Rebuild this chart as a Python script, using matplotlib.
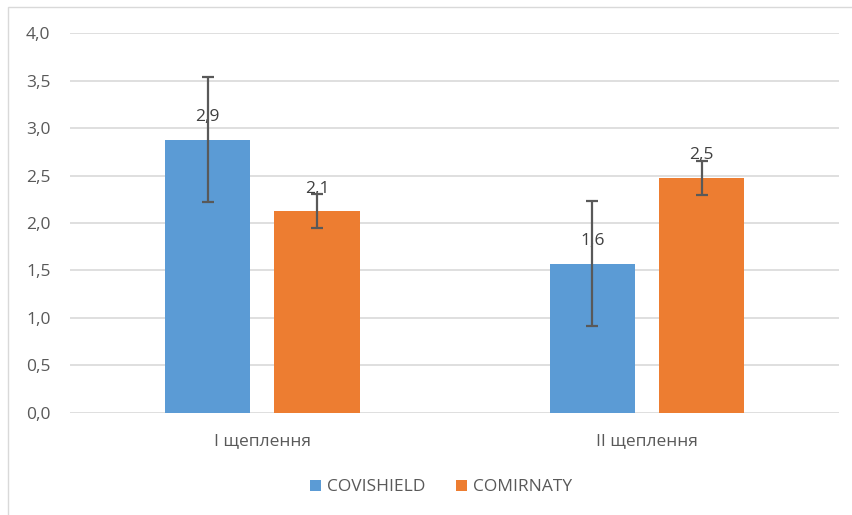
import matplotlib.pyplot as plt
import numpy as np
from matplotlib.patches import Rectangle

categories = ['I щеплення', 'II щеплення']
series_names = ['COVISHIELD', 'COMIRNATY']
covishield = [2.88, 1.57]
comirnaty = [2.125, 2.475]
covishield_err = [0.66, 0.66]
comirnaty_err = [0.18, 0.175]
y_ticks = [0.0, 0.5, 1.0, 1.5, 2.0, 2.5, 3.0, 3.5, 4.0]

plt.rcParams['font.family'] = ['Open Sans', 'DejaVu Sans']

fig = plt.figure(figsize=(8.53, 5.15), dpi=100)
ax = fig.add_axes([0.082, 0.199, 0.902, 0.736])

# рамка області діаграми
fig.patches.append(Rectangle((8 / 853, -0.1), 1.2, 1 - 7 / 515 + 0.1,
                             transform=fig.transFigure, fill=False,
                             edgecolor='#d9d9d9', linewidth=1.0))

x = np.arange(len(categories))
w = 0.222
gap = 0.062
colors = ['#5b9bd5', '#ed7d31']
values = [covishield, comirnaty]
errors = [covishield_err, comirnaty_err]

for i in range(2):
    pos = x + (i - 0.5) * (w + gap)
    ax.bar(pos, values[i], width=w, color=colors[i], label=series_names[i], zorder=2)
    for p, v in zip(pos, values[i]):
        ax.annotate(f'{v:.1f}'.replace('.', ','), (p, v), xytext=(0, 10.5),
                    textcoords='offset points', ha='center', va='bottom',
                    fontsize=12.5, color='#404040', zorder=3)
    ax.errorbar(pos, values[i], yerr=errors[i], fmt='none', ecolor='#595959',
                elinewidth=1.6, capsize=4.5, capthick=1.6, zorder=4)

ax.set_xlim(-0.5, 1.5)
ax.set_ylim(0, 4.0)
ax.set_yticks(y_ticks)
ax.set_yticklabels([f'{t:.1f}'.replace('.', ',') for t in y_ticks])
ax.set_xticks(x)
ax.set_xticklabels(categories)
ax.yaxis.grid(True, color='#d9d9d9', linewidth=1.2, zorder=0)
ax.set_axisbelow(True)
for s in ax.spines.values():
    s.set_visible(False)
ax.tick_params(axis='both', length=0, labelsize=12.5, colors='#595959')
ax.tick_params(axis='y', pad=14)
ax.tick_params(axis='x', pad=15)

fig.legend(loc='center', bbox_to_anchor=(0.517, 0.054), ncol=2, frameon=False,
           fontsize=12.5, labelcolor='#595959', handlelength=0.6, handleheight=0.6,
           handletextpad=0.35, columnspacing=1.8)

fig.savefig('out.png', dpi=100)
